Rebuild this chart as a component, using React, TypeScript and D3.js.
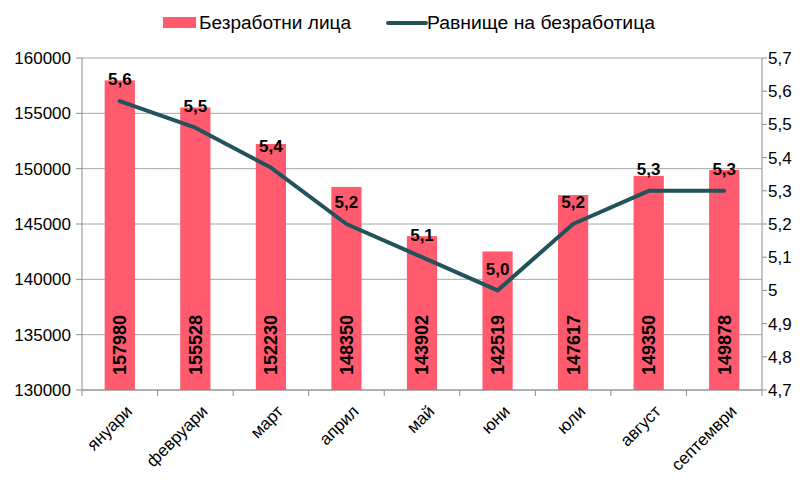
import React from 'react';
import * as d3 from 'd3';

const months = ['януари', 'февруари', 'март', 'април', 'май', 'юни', 'юли', 'август', 'септември'];
const unemployed = [157980, 155528, 152230, 148350, 143902, 142519, 147617, 149350, 149878];
const rate = [5.57, 5.49, 5.37, 5.2, 5.1, 5.0, 5.2, 5.3, 5.3];
const leftTicks = [130000, 135000, 140000, 145000, 150000, 155000, 160000];
const rightTicks = [4.7, 4.8, 4.9, 5.0, 5.1, 5.2, 5.3, 5.4, 5.5, 5.6, 5.7];

const W = 804;
const H = 480;
const M = { left: 82, right: 42, top: 58, bottom: 90 };
const BAR = '#ff5a6e';
const LINE = '#23535a';
const FONT = 'Arial, "Liberation Sans", sans-serif';

// 5,0 is shown as "5" on the right axis
const fmtTick = (v: number) => (Math.abs(v - 5) < 1e-9 ? '5' : v.toFixed(1).replace('.', ','));
const fmtRate = (v: number) => v.toFixed(1).replace('.', ',');

const App: React.FC = () => {
    const x = d3.scaleBand<string>()
        .domain(months)
        .range([M.left, W - M.right])
        .paddingInner(0.6)
        .paddingOuter(0.3);
    const yL = d3.scaleLinear().domain([130000, 160000]).range([H - M.bottom, M.top]);
    const yR = d3.scaleLinear().domain([4.7, 5.7]).range([H - M.bottom, M.top]);
    const cx = (m: string) => (x(m) ?? 0) + x.bandwidth() / 2;
    const step = x.step();
    const x0 = M.left;
    const x1 = W - M.right;
    const yb = H - M.bottom;

    const linePath = d3.line<number>()
        .x((_, i) => cx(months[i]))
        .y(d => yR(d))(rate) || '';

    return (
        <div style={{ position: 'absolute', left: 0, top: 0 }}>
            <svg width={W} height={H} style={{ display: 'block', fontFamily: FONT }}>
                <rect width={W} height={H} fill="#fff" />

                {/* legend */}
                <rect x={163} y={17} width={33} height={11} fill={BAR} />
                <text x={199} y={29} fontSize={18} textLength={152} lengthAdjust="spacingAndGlyphs" fill="#000">Безработни лица</text>
                <line x1={388} x2={426} y1={23} y2={23} stroke={LINE} strokeWidth={4} strokeLinecap="round" />
                <text x={427} y={29} fontSize={18} textLength={228} lengthAdjust="spacingAndGlyphs" fill="#000">Равнище на безработица</text>

                {/* grid */}
                {leftTicks.map(t => (
                    <line key={'g' + t} x1={x0} x2={x1} y1={yL(t)} y2={yL(t)} stroke="#a6a6a6" strokeWidth={1} />
                ))}

                {/* bars */}
                {months.map((m, i) => (
                    <rect key={m} x={x(m)} y={yL(unemployed[i])} width={x.bandwidth()} height={yb - yL(unemployed[i])} fill={BAR} />
                ))}

                {/* axes */}
                <line x1={x0} x2={x0} y1={M.top} y2={yb} stroke="#8c8c8c" />
                <line x1={x1} x2={x1} y1={M.top} y2={yb} stroke="#8c8c8c" />
                <line x1={x0} x2={x1} y1={yb} y2={yb} stroke="#8c8c8c" />
                {leftTicks.map(t => (
                    <g key={'l' + t}>
                        <line x1={x0 - 6} x2={x0} y1={yL(t)} y2={yL(t)} stroke="#8c8c8c" />
                        <text x={71} y={yL(t)} dy="0.35em" textAnchor="end" fontSize={17} fill="#000">{t}</text>
                    </g>
                ))}
                {rightTicks.map(t => (
                    <g key={'r' + t}>
                        <line x1={x1} x2={x1 + 5} y1={yR(t)} y2={yR(t)} stroke="#8c8c8c" />
                        <text x={768} y={yR(t)} dy="0.35em" fontSize={17} fill="#000">{fmtTick(t)}</text>
                    </g>
                ))}
                {d3.range(months.length + 1).map(i => (
                    <line key={'b' + i} x1={x0 + i * step} x2={x0 + i * step} y1={yb} y2={yb + 6} stroke="#8c8c8c" />
                ))}
                {months.map(m => (
                    <text key={'xl' + m} transform={`translate(${cx(m) + 5},${yb + 14}) rotate(-45)`} textAnchor="end" dy="0.7em" fontSize={17} fill="#000">{m}</text>
                ))}

                {/* line */}
                <path d={linePath} fill="none" stroke={LINE} strokeWidth={4} strokeLinejoin="round" strokeLinecap="round" />

                {/* labels */}
                {months.map((m, i) => (
                    <text key={'v' + m} transform={`translate(${cx(m)},${yb - 45}) rotate(-90)`} textAnchor="middle" dy="0.36em" fontSize={18} fontWeight="bold" fill="#000">{unemployed[i]}</text>
                ))}
                {months.map((m, i) => (
                    <text key={'rl' + m} x={cx(m)} y={yR(rate[i]) - 22} dy="0.36em" textAnchor="middle" fontSize={17} fontWeight="bold" fill="#000">{fmtRate(rate[i])}</text>
                ))}
            </svg>
        </div>
    );
};

export default App;
